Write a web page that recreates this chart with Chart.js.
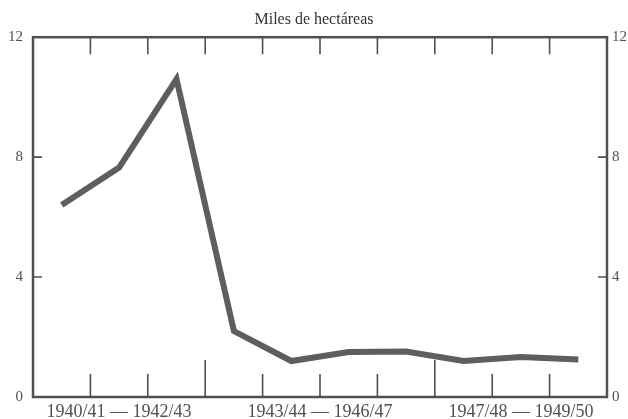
<!DOCTYPE html>
<html>
<head>
<meta charset="utf-8">
<script src="https://cdn.jsdelivr.net/npm/chart.js@4/dist/chart.umd.min.js"></script>
<style>
  html, body { margin: 0; padding: 0; background: #ffffff; overflow: hidden; }
  #contenedor { width: 628px; height: 419px; }
</style>
</head>
<body>
<div id="contenedor"><canvas id="grafico"></canvas></div>
<script>
/**
 * Datos del grafico (miles de hectareas por campaña)
 */
const campanias = ["1940/41", "1941/42", "1942/43", "1943/44", "1944/45", "1945/46", "1946/47", "1947/48", "1948/49", "1949/50"];
const hectareas = [6.4, 7.65, 10.6, 2.2, 1.2, 1.5, 1.52, 1.2, 1.33, 1.25];
const etiquetasGrupo = ["1940/41 \u2014 1942/43", "1943/44 \u2014 1946/47", "1947/48 \u2014 1949/50"];
const inicioGrupo = [0, 3, 7];
const finGrupo = [2, 6, 9];
const ticksY = [0, 4, 8, 12];

const colorTinta = "#505050";
const fuenteSerif = "'Liberation Serif', 'DejaVu Serif', serif";

//Dibujamos el marco, las marcas hacia adentro y las etiquetas de grupo
const marcoPlugin = {
  id: "marco",
  afterDraw(chart) {
    const ctx = chart.ctx;
    const area = chart.chartArea;
    const ejeX = chart.scales.x;
    const ejeY = chart.scales.y;

    ctx.save();
    ctx.strokeStyle = colorTinta;
    ctx.lineWidth = 2.5;
    ctx.strokeRect(area.left, area.top, area.right - area.left, area.bottom - area.top);

    ctx.lineWidth = 1.6;
    ctx.beginPath();
    for (let i = 0; i < campanias.length - 1; i++) {
      const x = ejeX.getPixelForValue(i + 0.5);
      const separador = finGrupo.includes(i);
      ctx.moveTo(x, area.top);
      ctx.lineTo(x, area.top + 17);
      ctx.moveTo(x, area.bottom);
      ctx.lineTo(x, area.bottom - (separador ? 37 : 23));
    }
    for (const valor of ticksY) {
      if (valor == 0 || valor == 12) continue;
      const y = ejeY.getPixelForValue(valor);
      ctx.moveTo(area.left, y);
      ctx.lineTo(area.left + 9, y);
      ctx.moveTo(area.right, y);
      ctx.lineTo(area.right - 9, y);
    }
    ctx.stroke();

    ctx.fillStyle = colorTinta;
    ctx.font = "18px " + fuenteSerif;
    ctx.textAlign = "center";
    ctx.textBaseline = "middle";
    for (let g = 0; g < etiquetasGrupo.length; g++) {
      const x = ejeX.getPixelForValue((inicioGrupo[g] + finGrupo[g]) / 2);
      ctx.fillText(etiquetasGrupo[g], x, area.bottom + 15);
    }
    ctx.restore();
  },
};

const ejeYComun = {
  min: 0,
  max: 12,
  afterBuildTicks(eje) {
    eje.ticks = ticksY.map((v) => ({ value: v }));
  },
  grid: { display: false, drawTicks: false, tickLength: 0 },
  border: { display: false },
  ticks: {
    color: colorTinta,
    font: { family: fuenteSerif, size: 15 },
  },
};

new Chart(document.getElementById("grafico"), {
  type: "line",
  data: {
    labels: campanias,
    datasets: [
      {
        label: "Miles de hectáreas",
        data: hectareas,
        borderColor: "#5e5e5e",
        borderWidth: 6,
        borderJoinStyle: "miter",
        borderCapStyle: "butt",
        pointRadius: 0,
        tension: 0,
        yAxisID: "y",
      },
    ],
  },
  options: {
    responsive: true,
    maintainAspectRatio: false,
    animation: false,
    layout: { padding: { top: 0, bottom: 22, left: 0, right: 0 } },
    plugins: {
      legend: { display: false },
      tooltip: { enabled: false },
      title: {
        display: true,
        text: "Miles de hectáreas",
        color: "#333333",
        font: { family: fuenteSerif, size: 16, weight: "normal" },
        padding: { top: 10, bottom: 8 },
      },
    },
    scales: {
      x: {
        display: false,
        offset: true,
      },
      y: Object.assign({}, ejeYComun, {
        position: "left",
        afterFit(eje) { eje.width = 33; },
        ticks: Object.assign({}, ejeYComun.ticks, { padding: 10 }),
      }),
      y2: Object.assign({}, ejeYComun, {
        position: "right",
        afterFit(eje) { eje.width = 21; },
        ticks: Object.assign({}, ejeYComun.ticks, { padding: 5 }),
      }),
    },
  },
  plugins: [marcoPlugin],
});
</script>
</body>
</html>
